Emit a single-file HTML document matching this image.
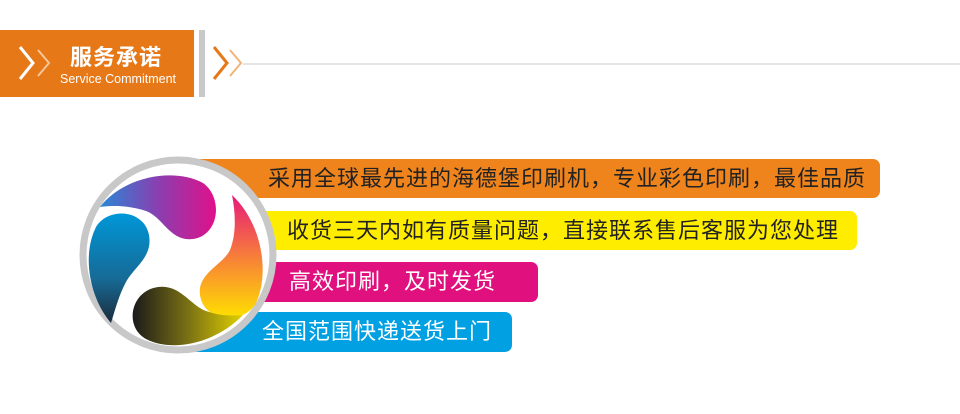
<!DOCTYPE html>
<html><head><meta charset="utf-8"><style>
body{margin:0;width:960px;height:414px;background:#fff;position:relative;overflow:hidden;font-family:"Liberation Sans","Noto Sans CJK SC",sans-serif}
.a{position:absolute}
.bar{position:absolute;border-radius:0 7px 7px 0;font-size:22px;letter-spacing:1px;line-height:40px;white-space:nowrap}
</style></head><body>
<div class="a" style="left:0;top:30px;width:194px;height:67px;background:#e77817"></div>
<div class="a" style="left:199px;top:30px;width:6px;height:67px;background:#c9c9c9"></div>
<svg class="a" style="left:0;top:0" width="960" height="110">
<polyline points="20,47 33,63 20,79" fill="none" stroke="#fff" stroke-width="3"/>
<polyline points="38,50 49,63 38,76" fill="none" stroke="#f6c79a" stroke-width="2"/>
<polyline points="214,47 227,63 214,79" fill="none" stroke="#e77817" stroke-width="3"/>
<polyline points="230,50 241,63 230,76" fill="none" stroke="#f2b37a" stroke-width="2"/>
<line x1="243" y1="64" x2="960" y2="64" stroke="#c8c8c8" stroke-width="1"/>
</svg>
<div class="a" style="left:70px;top:40px;color:#fff;font-size:22px;font-weight:bold;letter-spacing:1px">服务承诺</div>
<div class="a" style="left:60px;top:72px;color:#fff;font-size:12.5px">Service Commitment</div>

<div class="bar" style="left:190px;top:159px;width:690px;height:39px;background:#ef831c;color:#222"><span style="position:absolute;left:78px">采用全球最先进的海德堡印刷机，专业彩色印刷，最佳品质</span></div>
<div class="bar" style="left:190px;top:211px;width:667px;height:39px;background:#ffed00;color:#222"><span style="position:absolute;left:97px">收货三天内如有质量问题，直接联系售后客服为您处理</span></div>
<div class="bar" style="left:190px;top:262px;width:348px;height:40px;background:#e0117f;color:#fff"><span style="position:absolute;left:99px">高效印刷，及时发货</span></div>
<div class="bar" style="left:190px;top:312px;width:322px;height:40px;background:#00a0e2;color:#fff"><span style="position:absolute;left:72px">全国范围快递送货上门</span></div>

<svg class="a" style="left:78px;top:155px" width="200" height="200" viewBox="0 0 200 200">
<defs>
<linearGradient id="g1" x1="0" y1="0" x2="1" y2="0"><stop offset="0" stop-color="#2a86d6"/><stop offset="0.5" stop-color="#8a3fb0"/><stop offset="1" stop-color="#e0108a"/></linearGradient>
<linearGradient id="g2" x1="0" y1="0" x2="0" y2="1"><stop offset="0" stop-color="#e6197a"/><stop offset="0.5" stop-color="#f77e3a"/><stop offset="1" stop-color="#ffe000"/></linearGradient>
<linearGradient id="g3" x1="0" y1="0" x2="1" y2="0"><stop offset="0" stop-color="#1a1a1a"/><stop offset="0.5" stop-color="#7a7014"/><stop offset="1" stop-color="#e0d000"/></linearGradient>
<linearGradient id="g4" x1="0" y1="0" x2="0" y2="1"><stop offset="0" stop-color="#0097d8"/><stop offset="0.6" stop-color="#166a95"/><stop offset="1" stop-color="#1c2b3a"/></linearGradient>
</defs>
<circle cx="100" cy="100" r="95" fill="#fff" stroke="#c8c8c8" stroke-width="7"/>
<path d="M22,52 C45,22 95,12 125,28 C145,42 142,80 115,84 C92,87 85,62 68,56 C52,51 38,50 22,52Z" fill="url(#g1)"/>
<path d="M154,40 C184,68 192,118 178,148 C166,170 126,168 122,140 C119,118 145,110 152,95 C158,80 158,60 154,40Z" fill="url(#g2)"/>
<path d="M165,160 C138,188 95,198 68,184 C46,172 52,136 80,132 C102,129 112,150 128,156 C142,161 152,161 165,160Z" fill="url(#g3)"/>
<path d="M33,168 C11,142 4,100 18,72 C30,52 66,54 71,80 C75,102 56,112 48,127 C41,140 38,152 33,168Z" fill="url(#g4)"/>
</svg>
</body></html>
